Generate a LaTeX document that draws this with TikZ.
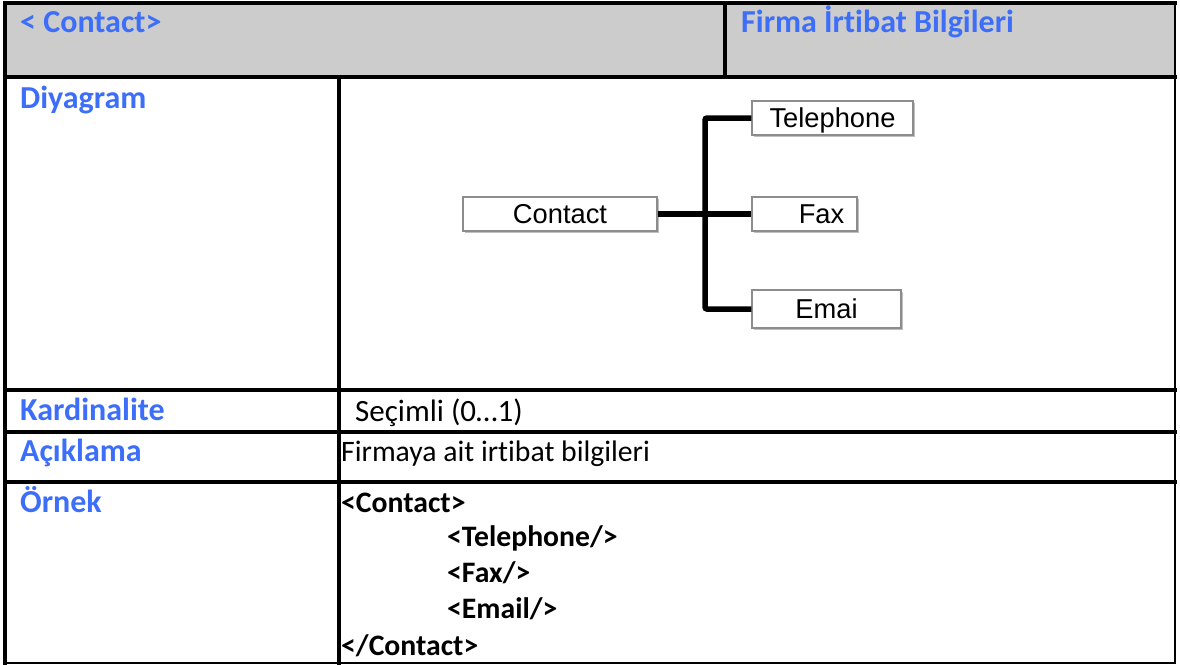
\documentclass[tikz,border=0pt]{standalone}
\usepackage{fontspec}
\setmainfont{Carlito}[Ligatures=NoCommon]
\newfontfamily\diagfont{Liberation Sans}
\usetikzlibrary{shadows}
\definecolor{hdrgray}{RGB}{204,204,204}
\definecolor{lblblue}{RGB}{60,110,250}
\definecolor{boxgray}{RGB}{140,140,140}
\tikzset{
  rule/.style={line width=3.4pt, line cap=rect},
  thinrule/.style={line width=2.4pt, line cap=rect},
  lbl/.style={anchor=base west, inner sep=0pt, text=lblblue, font=\fontsize{32}{36}\selectfont\bfseries},
  txt/.style={anchor=base west, inner sep=0pt, font=\fontsize{29.7}{36}\selectfont},
  code/.style={anchor=base west, inner sep=0pt, font=\fontsize{29.7}{36}\selectfont\bfseries},
  elem/.style={draw=boxgray, line width=1.3pt, fill=white, inner sep=0pt,
    text height=19pt, text depth=0pt, minimum height=34pt,
    font=\diagfont\fontsize{27.3}{30}\selectfont,
    drop shadow={shadow xshift=1.5pt, shadow yshift=-1.8pt, fill=black, opacity=0.25}},
  conn/.style={line width=5.5pt, rounded corners=2pt}
}
\begin{document}
\begin{tikzpicture}[x=1pt,y=-1pt]
\useasboundingbox (0,0) rectangle (1180,664);
% header
\fill[hdrgray] (5,3) rectangle (1175,77);
% table rules
\draw[rule] (5,3) -- (1175,3);
\draw[rule] (5,3) -- (5,663);
\draw[thinrule] (1175,3) -- (1175,663);
\draw[thinrule] (5,663) -- (1175,663);
\draw[rule] (725,3) -- (725,77);
\draw[rule] (5,77) -- (1175,77);
\draw[rule] (339,77) -- (339,663);
\draw[rule] (5,390) -- (1175,390);
\draw[rule] (5,432) -- (1175,432);
\draw[rule] (5,482) -- (1175,482);
% header texts
\node[lbl] (h1) at (20,32) {< Contact>};
\node[lbl] (h2) at (741,32) {Firma İrtibat Bilgileri};
% row labels
\node[lbl] (l1) at (20,108) {Diyagram};
\node[lbl] (l2) at (20,420) {Kardinalite};
\node[lbl] (l3) at (20,461) {Açıklama};
\node[lbl] (l4) at (20,512) {Örnek};
% row values
\node[txt, font=\fontsize{31}{36}\selectfont] (v2) at (355,421) {Seçimli (0…1)};
\node[txt] (v3) at (341,461) {Firmaya ait irtibat bilgileri};
\node[code] (c1) at (341,512) {<Contact>};
\node[code] (c2) at (447,546) {<Telephone/>};
\node[code] (c3) at (447,582) {<Fax/>};
\node[code] (c4) at (447,618) {<Email/>};
\node[code] (c5) at (341,655) {</Contact>};
% diagram
\node[elem, minimum width=194pt] (contact) at (560,214) {Contact};
\node[elem, minimum width=161pt] (tel) at (832.5,118) {Telephone};
\node[elem, minimum width=105pt] (fax) at (804.5,214) {\hspace*{34pt}Fax};
\node[elem, minimum width=149pt, minimum height=38pt] (email) at (826.5,309) {Emai};
\coordinate (jt) at (705,118);
\coordinate (jb) at (705,309);
\draw[conn] (tel.west) -- (jt) -- (jb) -- (email.west);
\draw[conn] (contact.east) -- (fax.west);
\end{tikzpicture}
\end{document}
